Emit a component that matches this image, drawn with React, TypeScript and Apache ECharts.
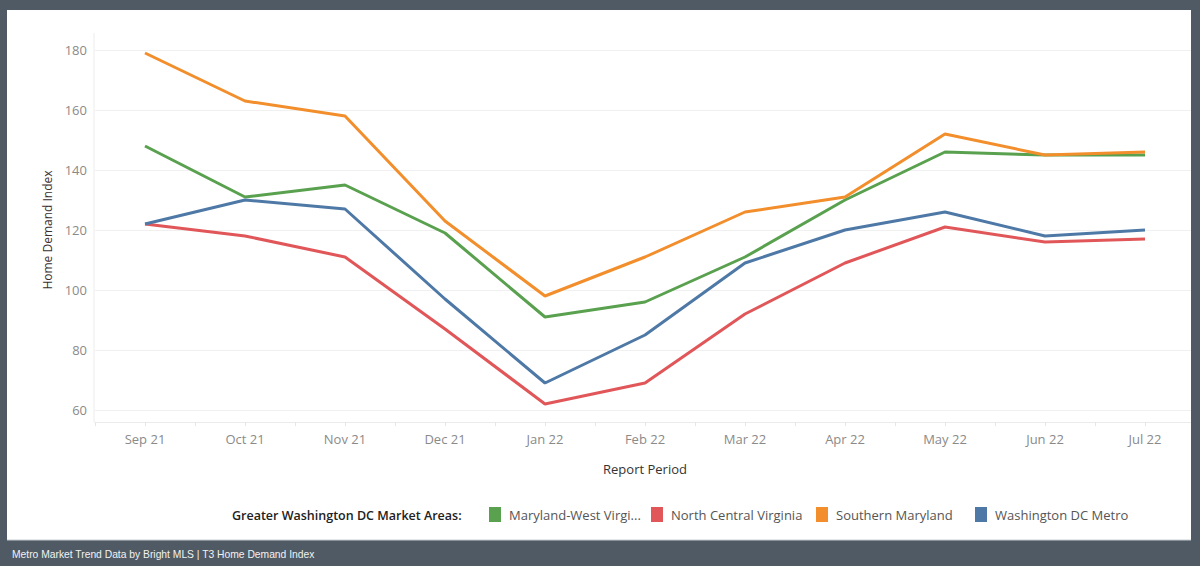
import React, { useEffect, useRef } from "react";
import * as echarts from "echarts";

const periods = ["Sep 21", "Oct 21", "Nov 21", "Dec 21", "Jan 22", "Feb 22", "Mar 22", "Apr 22", "May 22", "Jun 22", "Jul 22"];
const seriesNames = ["Maryland-West Virginia", "North Central Virginia", "Southern Maryland", "Washington DC Metro"];
const legendLabels = ["Maryland-West Virgi...", "North Central Virginia", "Southern Maryland", "Washington DC Metro"];
const marylandWV = [148, 131, 135, 119, 91, 96, 111, 130, 146, 145, 145];
const northCentralVA = [122, 118, 111, 87, 62, 69, 92, 109, 121, 116, 117];
const southernMD = [179, 163, 158, 123, 98, 111, 126, 131, 152, 145, 146];
const washingtonDC = [122, 130, 127, 97, 69, 85, 109, 120, 126, 118, 120];
const colors = ["#59a14f", "#e15759", "#f28e2b", "#4e79a7"];
const legendX = [489, 651, 816, 975];

export default function App() {
  const ref = useRef<HTMLDivElement>(null);
  useEffect(() => {
    if (!ref.current) return;
    const chart = echarts.init(ref.current, null, { renderer: "svg" });
    const data = [marylandWV, northCentralVA, southernMD, washingtonDC];
    const font = "'Open Sans', sans-serif";
    const frame = "#4f5a64";
    chart.setOption({
      animation: false,
      backgroundColor: "#ffffff",
      grid: { left: 95, right: 5, top: 50, bottom: 156 },
      xAxis: [
        {
          type: "category",
          data: periods,
          boundaryGap: true,
          offset: 12,
          axisLine: { show: true, lineStyle: { color: "#ebebeb" } },
          axisTick: { show: true, length: 4, lineStyle: { color: "#e6e6e6" } },
          axisLabel: { color: "#8a8a8a", fontSize: 13, fontFamily: font, margin: 10 },
          name: "Report Period",
          nameLocation: "middle",
          nameGap: 40,
          nameTextStyle: { color: "#333333", fontSize: 13, fontFamily: font },
          splitLine: { show: false },
        },
        {
          type: "category",
          data: periods,
          boundaryGap: true,
          position: "bottom",
          offset: 12,
          axisLine: { show: false },
          axisTick: { show: true, alignWithLabel: true, length: 4, lineStyle: { color: "#e6e6e6" } },
          axisLabel: { show: false },
          splitLine: { show: false },
        },
      ],
      yAxis: {
        type: "value",
        min: 60,
        max: 180,
        interval: 20,
        axisLine: { show: false },
        axisTick: { show: false },
        axisLabel: { color: "#8a8a8a", fontSize: 13, fontFamily: font, margin: 8 },
        splitLine: { show: true, lineStyle: { color: "#f0f0f0", width: 1 } },
        name: "Home Demand Index",
        nameLocation: "middle",
        nameGap: 42,
        nameTextStyle: { color: "#3a2f2f", fontSize: 12, fontFamily: font },
      },
      legend: seriesNames.map((n, i) => ({
        data: [n],
        left: legendX[i],
        top: 507,
        padding: 0,
        icon: "rect",
        itemWidth: 12,
        itemHeight: 15,
        selectedMode: false,
        formatter: () => legendLabels[i],
        textStyle: { color: "#555555", fontSize: 13, fontFamily: font, padding: [0, 0, 0, 3] },
      })),
      series: seriesNames.map((n, i) => ({
        name: n,
        type: "line",
        data: data[i],
        showSymbol: false,
        symbol: "none",
        lineStyle: { color: colors[i], width: 3 },
        itemStyle: { color: colors[i] },
        z: 2 + i,
      })),
      graphic: [
        { type: "line", shape: { x1: 94, y1: 33, x2: 94, y2: 422 }, style: { stroke: "#ececec", lineWidth: 1 }, z: 1 },
        { type: "rect", shape: { x: 0, y: 0, width: 1200, height: 10 }, style: { fill: frame }, z: 100 },
        { type: "rect", shape: { x: 0, y: 0, width: 7, height: 566 }, style: { fill: frame }, z: 100 },
        { type: "rect", shape: { x: 1191, y: 0, width: 9, height: 566 }, style: { fill: frame }, z: 100 },
        { type: "rect", shape: { x: 0, y: 540, width: 1200, height: 26 }, style: { fill: frame }, z: 100 },
        { type: "line", shape: { x1: 7, y1: 540, x2: 1191, y2: 540 }, style: { stroke: "#c8ccd0", lineWidth: 1 }, z: 101 },
        {
          type: "text",
          x: 12,
          y: 554,
          z: 102,
          style: {
            text: "Metro Market Trend Data by Bright MLS | T3 Home Demand Index",
            fill: "#f2f2f2",
            font: "10.3px 'Liberation Sans', Arial, sans-serif",
            verticalAlign: "middle",
          },
        },
        {
          type: "text",
          x: 232,
          y: 515,
          z: 10,
          style: {
            text: "Greater Washington DC Market Areas:",
            fill: "#222222",
            fontSize: 12.5,
            fontWeight: 600,
            fontFamily: "'Open Sans', sans-serif",
            verticalAlign: "middle",
          },
        },
      ],
    });
    return () => chart.dispose();
  }, []);
  return (
    <div
      ref={ref}
      style={{ position: "fixed", left: 0, top: 0, width: 1200, height: 566 }}
    />
  );
}
